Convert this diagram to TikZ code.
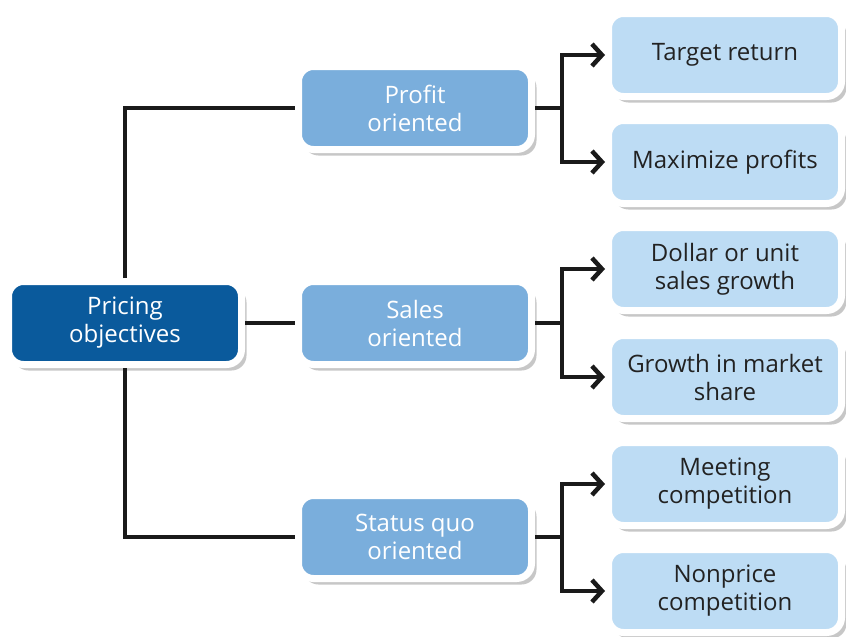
\documentclass[tikz,border=0pt]{standalone}
\usepackage{fontspec}
\setmainfont{Open Sans}
\usetikzlibrary{arrows.meta,shadows,calc}
\definecolor{darkblue}{HTML}{0A5A9C}
\definecolor{midblue}{HTML}{7AAEDC}
\definecolor{lightblue}{HTML}{BDDCF4}
\definecolor{linec}{HTML}{1A1A1A}
\definecolor{textc}{HTML}{222222}
\tikzset{
  box/.style={rounded corners=15pt, draw=white, line width=7pt,
    minimum width=233pt, minimum height=83pt, align=center,
    font=\fontsize{24}{28}\selectfont, inner sep=1pt,
    drop shadow={shadow xshift=5pt, shadow yshift=-6pt, opacity=0.22, fill=black}},
  rootbox/.style={box, fill=darkblue, text=white},
  midbox/.style={box, fill=midblue, text=white},
  leafbox/.style={box, fill=lightblue, text=textc},
  conn/.style={draw=linec, line width=4.5pt},
  arr/.style={conn, -{Straight Barb[length=10pt,width=22pt,line width=4.5pt]}}
}
\begin{document}
\begin{tikzpicture}[x=1pt,y=-1pt]
\useasboundingbox (0,0) rectangle (846,637);
\node[rootbox] (P) at (125,323) {Pricing\\objectives};
\node[midbox] (M1) at (415,108) {Profit\\oriented};
\node[midbox] (M2) at (415,323) {Sales\\oriented};
\node[midbox] (M3) at (415,537) {Status quo\\oriented};
\node[leafbox] (L1) at (725,55) {Target return};
\node[leafbox] (L2) at (725,162) {Maximize profits};
\node[leafbox] (L3) at (725,269) {Dollar or unit\\sales growth};
\node[leafbox] (L4) at (725,377) {Growth in market\\share};
\node[leafbox] (L5) at (725,484) {Meeting\\competition};
\node[leafbox] (L6) at (725,591) {Nonprice\\competition};
\draw[conn] (P.north) |- (M1.west);
\draw[conn] (P.south) |- (M3.west);
\draw[conn] (P.east) -- (M2.west);
\foreach \m/\a/\b in {M1/L1/L2, M2/L3/L4, M3/L5/L6}{
  \coordinate (j\m) at ($(\m.east)+(27,0)$);
  \draw[conn] (\m.east) -- (j\m);
  \draw[arr] (j\m) |- (\a.west);
  \draw[arr] (j\m) |- (\b.west);
}
\end{tikzpicture}
\end{document}
